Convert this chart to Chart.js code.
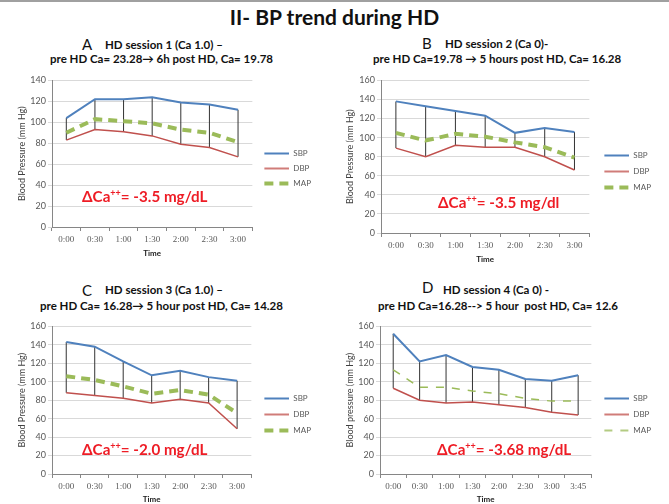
<!DOCTYPE html>
<html>
<head>
<meta charset="utf-8">
<script src="https://cdn.jsdelivr.net/npm/chart.js@4"></script>
<style>
  html, body { margin: 0; padding: 0; background: #fff; overflow: hidden; }
  body { width: 669px; height: 504px; position: relative; font-family: Lato, "Open Sans", sans-serif; }
  .topline { position: absolute; left: 0; top: 0; width: 669px; height: 2px; background: #a0a0a0; }
  .title { position: absolute; left: 0; width: 669px; top: 4px; text-align: center; font-weight: bold; font-size: 21px; color: #111; }
  .head { position: absolute; white-space: nowrap; font-weight: bold; font-size: 11.5px; color: #111; }
  .letter { position: absolute; white-space: nowrap; font-size: 15px; color: #111; }
  .delta { position: absolute; white-space: nowrap; font-weight: bold; font-size: 15.2px; color: #ee1c25; }
  .delta sup { font-size: 9px; }
  canvas { position: absolute; }
</style>
</head>
<body>
<div class="topline"></div>
<div class="title">II- BP trend during HD</div>

<div class="letter" style="left:82px;top:35px">A</div>
<div class="head" style="left:105px;top:38px">HD session 1 (Ca 1.0) –</div>
<div class="head" style="left:50px;top:52px">pre HD Ca= 23.28→ 6h post HD, Ca= 19.78</div>

<div class="letter" style="left:422px;top:34px">B</div>
<div class="head" style="left:445px;top:37px">HD session 2 (Ca 0)-</div>
<div class="head" style="left:373px;top:52px">pre HD Ca=19.78 → 5 hours post HD, Ca= 16.28</div>

<div class="letter" style="left:82px;top:281px">C</div>
<div class="head" style="left:105px;top:283px">HD session 3 (Ca 1.0) –</div>
<div class="head" style="left:40px;top:299px">pre HD Ca= 16.28→ 5 hour post HD, Ca= 14.28</div>

<div class="letter" style="left:422px;top:278px">D</div>
<div class="head" style="left:443px;top:283px">HD session 4 (Ca 0) -</div>
<div class="head" style="left:378px;top:299px">pre HD Ca=16.28--&gt; 5 hour&nbsp; post HD, Ca= 12.6</div>

<canvas id="cA" width="335" height="185" style="left:0;top:73px"></canvas>
<canvas id="cB" width="334" height="191" style="left:335px;top:73px"></canvas>
<canvas id="cC" width="335" height="185" style="left:0;top:319px"></canvas>
<canvas id="cD" width="334" height="185" style="left:335px;top:319px"></canvas>

<div class="delta" style="left:82px;top:187px">ΔCa<sup>++</sup>= -3.5 mg/dL</div>
<div class="delta" style="left:438px;top:193px">ΔCa<sup>++</sup>= -3.5 mg/dl</div>
<div class="delta" style="left:82px;top:440px">ΔCa<sup>++</sup>= -2.0 mg/dL</div>
<div class="delta" style="left:437px;top:440px">ΔCa<sup>++</sup>= -3.68 mg/dL</div>

<script>
// times (x categories)
const times7 = ["0:00", "0:30", "1:00", "1:30", "2:00", "2:30", "3:00"];
const times8 = ["0:00", "0:30", "1:00", "1:30", "2:00", "2:30", "3:00", "3:45"];

// session 1
const sbpA = [104, 122, 122, 124, 119, 117, 112];
const dbpA = [83, 93, 91, 87, 79, 76, 67];
const mapA = [90, 103, 101, 99, 93, 90, 81];
// session 2
const sbpB = [138, 133, 128, 123, 105, 110, 106];
const dbpB = [89, 80, 92, 90, 90, 80, 66];
const mapB = [105, 97, 104, 101, 95, 90, 79];
// session 3
const sbpC = [143, 138, 122, 107, 112, 105, 101];
const dbpC = [88, 85, 82, 77, 81, 77, 49];
const mapC = [106, 102, 95, 87, 91, 86, 66];
// session 4
const sbpD = [152, 122, 129, 116, 113, 103, 101, 107];
const dbpD = [93, 80, 77, 78, 75, 72, 67, 64];
const mapD = [113, 94, 94, 90, 87, 82, 79, 79];

const seriesNames = ["SBP", "DBP", "MAP"];
const colors = ["#4f81bd", "#c0504d", "#9bbb59"];

// small legend swatch, with blank space on the left to push the legend right
function swatch(color, width, dash, shift) {
  const c = document.createElement("canvas");
  c.width = 25 + shift;
  c.height = 8;
  const g = c.getContext("2d");
  g.strokeStyle = color;
  g.lineWidth = width;
  g.setLineDash(dash);
  g.beginPath();
  g.moveTo(shift, 4);
  g.lineTo(c.width, 4);
  g.stroke();
  return c;
}

function makeChart(id, labels, sbp, dbp, map, opt) {
  const ctx = document.getElementById(id).getContext("2d");
  return new Chart(ctx, {
    type: "line",
    data: {
      labels: labels,
      datasets: [
        { label: seriesNames[0], data: sbp, borderColor: colors[0], backgroundColor: colors[0], borderWidth: 2, pointRadius: 0, tension: 0, order: 1,
          pointStyle: swatch(colors[0], 2, [], opt.shift) },
        { label: seriesNames[1], data: dbp, borderColor: colors[1], backgroundColor: colors[1], borderWidth: 1.5, pointRadius: 0, tension: 0, order: 2,
          pointStyle: swatch(colors[1], 1.5, [], opt.shift) },
        { label: seriesNames[2], data: map, borderColor: colors[2], backgroundColor: colors[2], borderWidth: opt.mapWidth, borderDash: opt.mapDash, pointRadius: 0, tension: 0, order: 0,
          pointStyle: swatch(colors[2], opt.mapWidth, opt.mapDash, opt.shift) },
        // high-low lines between SBP and DBP
        { type: "bar", label: "hl", data: sbp.map((s, i) => [dbp[i], s]), backgroundColor: "#333", barThickness: 1, inflateAmount: 0, order: 5 }
      ]
    },
    options: {
      responsive: false,
      animation: false,
      layout: { padding: { top: 6, right: opt.padRight, left: 0, bottom: 0 } },
      plugins: {
        tooltip: { enabled: false },
        legend: {
          position: "right",
          labels: {
            filter: item => item.datasetIndex < 3,
            sort: (a, b) => a.datasetIndex - b.datasetIndex,
            usePointStyle: true,
            pointStyleWidth: 25 + opt.shift,
            padding: opt.legendPad,
            color: "#595959",
            font: { family: "Lato", size: 8 }
          }
        }
      },
      scales: {
        x: {
          offset: true,
          grid: { display: true, drawOnChartArea: false, offset: true, tickLength: 4, color: "#868686" },
          border: { color: "#868686" },
          ticks: { color: "#595959", padding: 3, font: { family: "Liberation Serif", size: 9 }, maxRotation: 0 },
          title: { display: true, text: "Time", color: "#222", padding: { top: 0, bottom: 0 }, font: { family: "Lato", size: 8, weight: "bold" } },
          afterFit: s => { s.height = opt.xHeight; }
        },
        y: {
          min: 0, max: opt.yMax,
          ticks: { stepSize: 20, color: "#595959", padding: 2, font: { family: "Lato", size: 9 } },
          grid: { color: "#d9d9d9", tickLength: 4 },
          border: { color: "#868686" },
          title: { display: true, text: opt.yTitle, color: "#404040", padding: { top: opt.yTitlePad, bottom: 0 }, font: { family: "Lato", size: 9 } },
          afterFit: s => { s.width = opt.yWidth; }
        }
      }
    }
  });
}

makeChart("cA", times7, sbpA, dbpA, mapA, { yMax: 140, yTitle: "Blood Pressure (mm Hg)", mapWidth: 4, mapDash: [9, 6], xHeight: 31, yWidth: 52, yTitlePad: 17, padRight: 14, shift: 5, legendPad: 7 });
makeChart("cB", times7, sbpB, dbpB, mapB, { yMax: 160, yTitle: "Blood Pressure (mm Hg)", mapWidth: 4, mapDash: [9, 6], xHeight: 31, yWidth: 46, yTitlePad: 10, padRight: 8, shift: 7, legendPad: 8 });
makeChart("cC", times7, sbpC, dbpC, mapC, { yMax: 160, yTitle: "Blood Pressure (mm Hg)", mapWidth: 4, mapDash: [9, 6], xHeight: 30, yWidth: 52, yTitlePad: 17, padRight: 14, shift: 5, legendPad: 8 });
makeChart("cD", times8, sbpD, dbpD, mapD, { yMax: 160, yTitle: "Blood pressure (mm Hg)", mapWidth: 1.5, mapDash: [8, 8], xHeight: 30, yWidth: 45, yTitlePad: 10, padRight: 8, shift: 5, legendPad: 8 });
</script>
</body>
</html>
